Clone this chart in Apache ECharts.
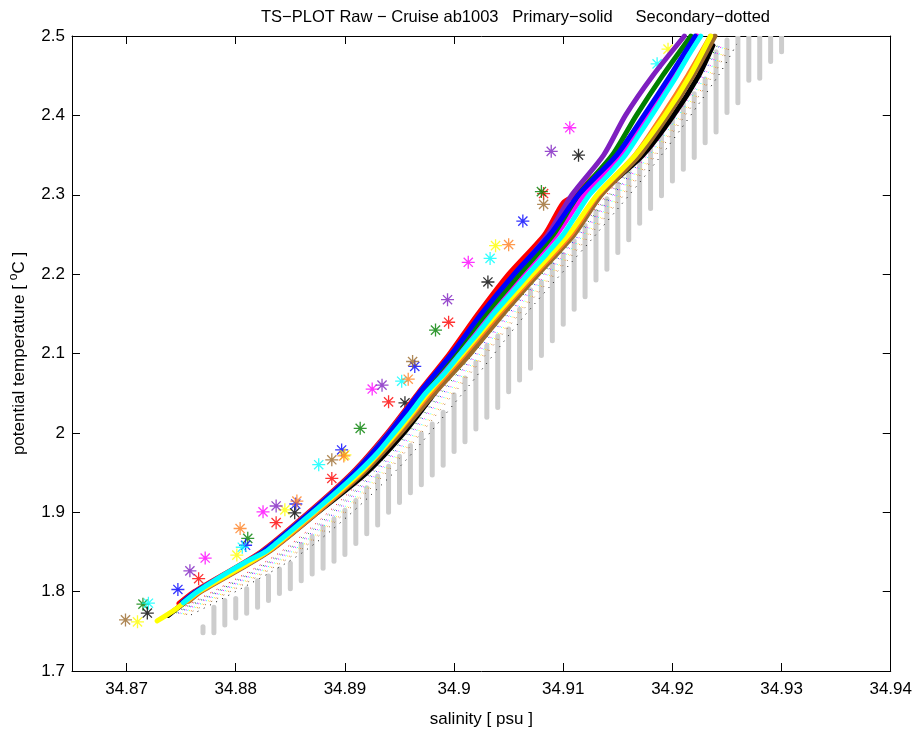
<!DOCTYPE html>
<html>
<head>
<meta charset="utf-8">
<script src="https://cdn.jsdelivr.net/npm/echarts@6/dist/echarts.min.js"></script>
<style>
html,body{margin:0;padding:0;background:#fff;}
#chart{width:915px;height:733px;}
</style>
</head>
<body>
<div id="chart"></div>
<script>
// ---------- axis ticks ----------
const xTicks = [34.87, 34.88, 34.89, 34.9, 34.91, 34.92, 34.93, 34.94];
const yTicks = [1.7, 1.8, 1.9, 2.0, 2.1, 2.2, 2.3, 2.4, 2.5];

// ---------- reference (gray) bottle strips: salinity, top temp, bottom temp ----------
const graySal = [34.877,34.878,34.879,34.880,34.881,34.882,34.883,34.884,34.885,34.886,34.887,34.888,34.889,34.890,34.891,34.892,34.893,34.894,34.895,34.896,34.897,34.898,34.899,34.900,34.901,34.902,34.903,34.904,34.905,34.906,34.907,34.908,34.909,34.910,34.911,34.912,34.913,34.914,34.915,34.916,34.917,34.918,34.919,34.920,34.921,34.922,34.923,34.924,34.925,34.926,34.927,34.928,34.929,34.930];
const grayTop = [1.7556,1.7802,1.7889,1.7914,1.8037,1.8136,1.8198,1.8284,1.8358,1.8593,1.8691,1.8815,1.8914,1.9025,1.9148,1.9309,1.9457,1.9580,1.9704,1.9840,1.9988,2.0111,2.0259,2.0481,2.0691,2.0889,2.1099,2.1222,2.1309,2.1556,2.1802,2.1901,2.2123,2.2247,2.2420,2.2617,2.2790,2.2951,2.3136,2.3358,2.3506,2.3716,2.3877,2.4000,2.4148,2.4272,2.4457,2.4802,2.4951,2.5,2.5,2.5,2.5,2.5];
const grayBot = [1.7481,1.7481,1.7580,1.7667,1.7728,1.7802,1.7889,1.7975,1.8037,1.8136,1.8222,1.8296,1.8383,1.8469,1.8605,1.8728,1.8840,1.9000,1.9123,1.9247,1.9346,1.9469,1.9593,1.9765,1.9889,2.0049,2.0198,2.0321,2.0519,2.0667,2.0815,2.0975,2.1160,2.1370,2.1556,2.1716,2.1926,2.2062,2.2272,2.2432,2.2642,2.2827,2.2988,2.3173,2.3321,2.3469,2.3654,2.3790,2.4037,2.4160,2.4444,2.4469,2.4679,2.4802];

// ---------- primary (solid) profiles: [salinity, potential temperature] ----------
const primaryCyan = [[34.8752,1.786],[34.8765,1.800],[34.8790,1.822],[34.8810,1.838],[34.8827,1.850],[34.8838,1.862],[34.8852,1.878],[34.8871,1.900],[34.8892,1.925],[34.8912,1.950],[34.8930,1.975],[34.8945,2.000],[34.8960,2.025],[34.8974,2.050],[34.8990,2.073],[34.9006,2.100],[34.9022,2.126],[34.9036,2.150],[34.9050,2.172],[34.9068,2.200],[34.9085,2.226],[34.9100,2.250],[34.9112,2.275],[34.9124,2.300],[34.9142,2.326],[34.9157,2.350],[34.9170,2.377],[34.9181,2.400],[34.9193,2.426],[34.9204,2.450],[34.9215,2.476],[34.9226,2.500]];
const primaryRed = [[34.8748,1.785],[34.8762,1.800],[34.8823,1.850],[34.8867,1.900],[34.8907,1.950],[34.8939,2.000],[34.8967,2.050],[34.8996,2.100],[34.9022,2.150],[34.9050,2.200],[34.9083,2.250],[34.9100,2.290],[34.9112,2.300],[34.9126,2.320],[34.9149,2.350],[34.9175,2.400],[34.9199,2.450],[34.9222,2.500]];
const primaryPurple = [[34.8750,1.785],[34.8763,1.800],[34.8824,1.850],[34.8868,1.900],[34.8908,1.950],[34.8940,2.000],[34.8968,2.050],[34.8998,2.100],[34.9026,2.150],[34.9056,2.200],[34.9086,2.250],[34.9108,2.300],[34.9137,2.350],[34.9157,2.400],[34.9182,2.450],[34.9211,2.500]];
const primaryGreen = [[34.8751,1.786],[34.8764,1.800],[34.8825,1.850],[34.8869,1.900],[34.8909,1.950],[34.8941,2.000],[34.8969,2.050],[34.9000,2.100],[34.9029,2.150],[34.9060,2.200],[34.9091,2.250],[34.9114,2.300],[34.9145,2.350],[34.9167,2.400],[34.9191,2.450],[34.9217,2.500]];
const primaryBlue = [[34.8751,1.786],[34.8764,1.800],[34.8825,1.850],[34.8869,1.900],[34.8909,1.950],[34.8941,2.000],[34.8968,2.050],[34.8998,2.100],[34.9025,2.150],[34.9055,2.200],[34.9088,2.250],[34.9114,2.300],[34.9149,2.350],[34.9174,2.400],[34.9198,2.450],[34.9221,2.500]];
const primaryMagenta = [[34.8751,1.786],[34.8764,1.800],[34.8825,1.850],[34.8869,1.900],[34.8910,1.950],[34.8942,2.000],[34.8971,2.050],[34.9002,2.100],[34.9031,2.150],[34.9062,2.200],[34.9094,2.250],[34.9119,2.300],[34.9152,2.350],[34.9177,2.400],[34.9200,2.450],[34.9223,2.500]];
const primaryYellow = [[34.8728,1.763],[34.8745,1.778],[34.8766,1.800],[34.8828,1.850],[34.8872,1.900],[34.8914,1.950],[34.8947,2.000],[34.8976,2.050],[34.9008,2.100],[34.9039,2.150],[34.9072,2.200],[34.9105,2.250],[34.9131,2.300],[34.9166,2.350],[34.9193,2.400],[34.9216,2.450],[34.9235,2.500]];
const primaryOrange = [[34.8756,1.788],[34.8767,1.800],[34.8829,1.850],[34.8874,1.900],[34.8915,1.950],[34.8948,2.000],[34.8978,2.050],[34.9010,2.100],[34.9041,2.150],[34.9074,2.200],[34.9107,2.250],[34.9132,2.300],[34.9166,2.350],[34.9191,2.400],[34.9214,2.450],[34.9235,2.500]];
const primaryBrown = [[34.8757,1.788],[34.8768,1.800],[34.8830,1.850],[34.8875,1.900],[34.8917,1.950],[34.8951,2.000],[34.8982,2.050],[34.9015,2.100],[34.9045,2.150],[34.9077,2.200],[34.9110,2.250],[34.9135,2.300],[34.9170,2.350],[34.9196,2.400],[34.9219,2.450],[34.9239,2.500]];
const primaryBlack = [[34.8738,1.770],[34.8767,1.800],[34.8829,1.850],[34.8875,1.900],[34.8920,1.950],[34.8954,2.000],[34.8982,2.050],[34.9010,2.100],[34.9039,2.150],[34.9072,2.200],[34.9106,2.250],[34.9133,2.300],[34.9173,2.350],[34.9201,2.400],[34.9224,2.450],[34.9237,2.488]];

// ---------- secondary (dotted) profiles ----------
const dotTemps = [1.77, 1.85, 1.95, 2.05, 2.15, 2.25, 2.35, 2.45, 2.49];
const secondaryRed = [34.8737,34.8841,34.8922,34.8984,34.9044,34.9109,34.9169,34.9221,34.9238];
const secondaryPurple = [34.8739,34.8843,34.8924,34.8986,34.9046,34.9111,34.9171,34.9223,34.9240];
const secondaryGreen = [34.8741,34.8845,34.8926,34.8988,34.9048,34.9113,34.9173,34.9225,34.9242];
const secondaryBlue = [34.8743,34.8847,34.8928,34.8990,34.9050,34.9115,34.9175,34.9227,34.9244];
const secondaryMagenta = [34.8745,34.8849,34.8930,34.8992,34.9052,34.9117,34.9177,34.9229,34.9246];
const secondaryCyan = [34.8747,34.8851,34.8932,34.8994,34.9054,34.9119,34.9179,34.9231,34.9248];
const secondaryYellow = [34.8749,34.8853,34.8934,34.8996,34.9056,34.9121,34.9181,34.9233,34.9250];
const secondaryOrange = [34.8751,34.8855,34.8936,34.8998,34.9058,34.9123,34.9183,34.9235,34.9252];
const secondaryBrown = [34.8753,34.8857,34.8938,34.9000,34.9060,34.9125,34.9185,34.9237,34.9254];
const secondaryBlack = [34.8758,34.8862,34.8945,34.9008,34.9066,34.9130,34.9190,34.9242,34.9259];

// ---------- bottle samples (asterisks) ----------
const starsRed = [[34.8766,1.8163],[34.8837,1.8869],[34.8888,1.9426],[34.8940,2.0391],[34.8995,2.1394],[34.9082,2.3015]];
const starsGreen = [[34.8715,1.7842],[34.8811,1.8671],[34.8914,2.0057],[34.8983,2.1295],[34.9080,2.3040]];
const starsBlue = [[34.8747,1.8027],[34.8809,1.8584],[34.8855,1.9104],[34.8897,1.9785],[34.8964,2.0837],[34.9063,2.2668]];
const starsCyan = [[34.8720,1.7854],[34.8806,1.8559],[34.8876,1.9599],[34.8952,2.0651],[34.9033,2.2198],[34.9186,2.4649]];
const starsMagenta = [[34.8772,1.8423],[34.8825,1.9005],[34.8925,2.0552],[34.9013,2.2149],[34.9106,2.3844]];
const starsYellow = [[34.8710,1.7619],[34.8801,1.8460],[34.8845,1.9030],[34.8900,1.9723],[34.9038,2.2359],[34.9196,2.4834]];
const starsBlack = [[34.8719,1.7730],[34.8854,1.8993],[34.8955,2.0379],[34.9031,2.1901],[34.9114,2.3498]];
const starsPurple = [[34.8758,1.8262],[34.8837,1.9079],[34.8934,2.0601],[34.8994,2.1678],[34.9089,2.3547]];
const starsOrange = [[34.8804,1.8795],[34.8856,1.9141],[34.8899,1.9710],[34.8958,2.0676],[34.9050,2.2371]];
const starsBrown = [[34.8699,1.7644],[34.8888,1.9661],[34.8962,2.0899],[34.9082,2.2879]];

// ---------- colours ----------
const C = {
  red:'#ff0000', green:'#008000', blue:'#0000ff', cyan:'#00ffff', magenta:'#ff00ff',
  yellow:'#ffff00', black:'#000000', purple:'#7e1fc0', orange:'#ff8020', brown:'#9b6a2c'
};

const FONT = '"Liberation Sans", Arial, Helvetica, sans-serif';
const ASTERISK = 'path://M0,-1L0,1M-1,0L1,0M-0.7071,-0.7071L0.7071,0.7071M-0.7071,0.7071L0.7071,-0.7071';

const series = [];

// gray strips
series.push({
  type:'custom', name:'reference', silent:true, clip:true,
  data: graySal.map((s,i)=>[s, grayTop[i], grayBot[i]]),
  encode:{x:0, y:[1,2]},
  renderItem:(params, api)=>{
    const a = api.coord([api.value(0), api.value(1)]);
    const b = api.coord([api.value(0), api.value(2)]);
    return {type:'line', shape:{x1:a[0], y1:a[1], x2:b[0], y2:b[1]},
      style:{stroke:'#cdcdcd', lineWidth:5, lineCap:'round'}};
  }
});

// secondary dotted
const secondary = [
  ['red',secondaryRed],['purple',secondaryPurple],['green',secondaryGreen],['blue',secondaryBlue],
  ['magenta',secondaryMagenta],['cyan',secondaryCyan],['yellow',secondaryYellow],['orange',secondaryOrange],
  ['brown',secondaryBrown],['black',secondaryBlack]
];
secondary.forEach(([c, arr], k)=>{
  series.push({
    type:'line', silent:true, showSymbol:false, clip:true, smooth:0.3,
    data: arr.map((s,i)=>[s, dotTemps[i]]),
    lineStyle:{color:C[c], width:1, type:[1, 6], dashOffset:k*0.6}
  });
});

// primary solid
const primary = [
  ['black',primaryBlack],['brown',primaryBrown],['orange',primaryOrange],['red',primaryRed],['magenta',primaryMagenta],
  ['purple',primaryPurple],['green',primaryGreen],['blue',primaryBlue],['yellow',primaryYellow],
  ['cyan',primaryCyan]
];
primary.forEach(([c, arr])=>{
  series.push({
    type:'line', silent:true, showSymbol:false, clip:true, smooth:0.25,
    data: arr,
    lineStyle:{color:C[c], width:5, cap:'round', join:'round'}
  });
});

// asterisks
const stars = [
  ['red',starsRed],['green',starsGreen],['blue',starsBlue],['cyan',starsCyan],['magenta',starsMagenta],
  ['yellow',starsYellow],['black',starsBlack],['purple',starsPurple],['orange',starsOrange],['brown',starsBrown]
];
stars.forEach(([c, arr])=>{
  series.push({
    type:'scatter', silent:true, data: arr,
    symbol: ASTERISK, symbolSize: 13, symbolKeepAspect:true,
    itemStyle:{color:'none', borderColor:C[c], borderWidth:1.3}
  });
});

const tickStyle = {lineStyle:{color:'#000', width:1}};
const chart = echarts.init(document.getElementById('chart'), null, {renderer:'canvas'});
chart.setOption({
  animation:false,
  backgroundColor:'#ffffff',
  title:{
    text:'TS\u2212PLOT Raw \u2212 Cruise ab1003   Primary\u2212solid     Secondary\u2212dotted',
    left:256, top:4,
    textStyle:{fontFamily:FONT, fontSize:16.5, fontWeight:'normal', color:'#000'}
  },
  grid:{left:72, right:24, top:36, bottom:51, containLabel:false},
  xAxis:[{
    type:'value', min:34.865, max:34.94, position:'bottom',
    name:'salinity [ psu ]', nameLocation:'middle', nameGap:40,
    nameTextStyle:{fontFamily:FONT, fontSize:17, color:'#000'},
    axisLine:{show:true, onZero:false, lineStyle:{color:'#000', width:1}},
    axisTick:{show:true, inside:true, length:8, customValues:xTicks, ...tickStyle},
    axisLabel:{customValues:xTicks, fontFamily:FONT, fontSize:17, color:'#000', margin:10,
      formatter:(v)=>String(+v.toFixed(3))},
    splitLine:{show:false}
  },{
    type:'value', min:34.865, max:34.94, position:'top',
    axisLine:{show:true, onZero:false, lineStyle:{color:'#000', width:1}},
    axisTick:{show:true, inside:true, length:8, customValues:xTicks, ...tickStyle},
    axisLabel:{show:false}, splitLine:{show:false}
  }],
  yAxis:[{
    type:'value', min:1.7, max:2.5, interval:0.1, position:'left',
    name:'potential temperature [ {sup|o}C ]', nameLocation:'middle', nameGap:42, nameRotate:90,
    nameTextStyle:{fontFamily:FONT, fontSize:17, color:'#000',
      rich:{sup:{fontFamily:FONT, fontSize:12, color:'#000', verticalAlign:'top', lineHeight:22, padding:[0,0,8,0]}}},
    axisLine:{show:true, onZero:false, lineStyle:{color:'#000', width:1}},
    axisTick:{show:true, inside:true, length:8, ...tickStyle},
    axisLabel:{fontFamily:FONT, fontSize:17, color:'#000', margin:7,
      formatter:(v)=>String(+v.toFixed(2))},
    splitLine:{show:false}
  },{
    type:'value', min:1.7, max:2.5, interval:0.1, position:'right',
    axisLine:{show:true, onZero:false, lineStyle:{color:'#000', width:1}},
    axisTick:{show:true, inside:true, length:8, ...tickStyle},
    axisLabel:{show:false}, splitLine:{show:false}
  }],
  series: series
});
</script>
</body>
</html>
